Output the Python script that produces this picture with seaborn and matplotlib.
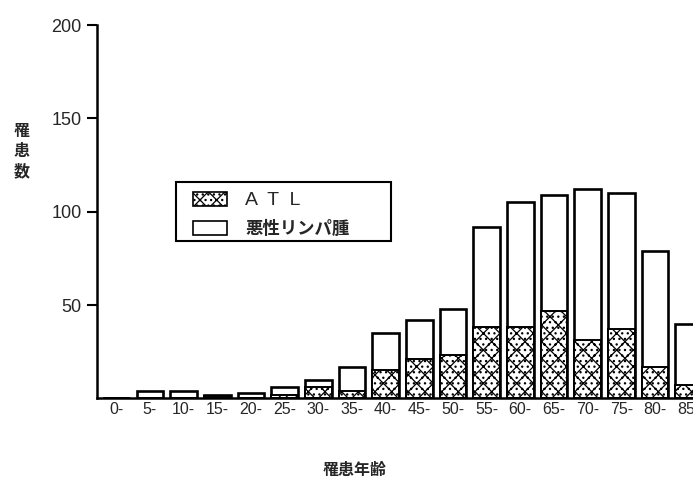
import matplotlib
matplotlib.use("Agg")
import matplotlib.pyplot as plt
from matplotlib.patches import Patch, Rectangle
import seaborn as sns
import pandas as pd

# Age groups (years) and case counts
age_groups = ["0-", "5-", "10-", "15-", "20-", "25-", "30-", "35-", "40-",
              "45-", "50-", "55-", "60-", "65-", "70-", "75-", "80-", "85-"]
total_cases = [0, 4, 4, 2, 3, 6, 10, 17, 35, 42, 48, 92, 105, 109, 112, 110, 79, 40]
atl_cases = [0, 0, 0, 1, 0, 2, 6, 4, 15, 21, 23, 38, 38, 47, 31, 37, 17, 7]
y_ticks = [50, 100, 150, 200]

df = pd.DataFrame({"age": age_groups, "total": total_cases, "atl": atl_cases})

sns.set_theme(style="white")
plt.rcParams["font.family"] = ["Liberation Sans", "Noto Sans CJK JP", "DejaVu Sans"]
plt.rcParams["hatch.linewidth"] = 0.9

ATL_HATCH = "xx..."
W, H = 693, 484

fig = plt.figure(figsize=(6.93, 4.84), dpi=100)
# The plotting area runs a little past the right edge of the figure
ax = fig.add_axes([0.140, 0.177, 0.878, 0.771])

# Whole bar (malignant lymphoma total), then ATL portion from the baseline
sns.barplot(data=df, x="age", y="total", color="white", edgecolor="black",
            linewidth=1.9, width=0.8, ax=ax, saturation=1)
sns.barplot(data=df, x="age", y="atl", color="white", edgecolor="black",
            linewidth=1.4, width=0.8, hatch=ATL_HATCH, ax=ax, saturation=1)

ax.set_xlim(-0.573, 17.5)
ax.set_ylim(0, 200)
ax.set_yticks(y_ticks)
ax.set_yticklabels([str(t) for t in y_ticks], fontsize=13)
ax.tick_params(axis="y", direction="out", length=7, width=1.5, color="black", pad=4, left=True)
ax.tick_params(axis="x", length=0, pad=3, labelsize=11.5)

for side in ["top", "right"]:
    ax.spines[side].set_visible(False)
for side in ["left", "bottom"]:
    ax.spines[side].set_color("black")
    ax.spines[side].set_linewidth(1.8)

ax.set_xlabel("")
ax.set_ylabel("")

# Axis titles
for ch, ypx in zip("罹患数", [131, 151, 171]):
    fig.text(22 / W, 1 - ypx / H, ch, ha="center", va="center", fontsize=11.5,
             fontweight="bold", family=["Noto Sans CJK JP"])
fig.text(355 / W, 1 - 470 / H, "罹患年齢", ha="center", va="center", fontsize=11.5,
         fontweight="bold", family=["Noto Sans CJK JP"])

# Legend: entries without their own frame, boxed by a separate rectangle
handles = [
    Patch(facecolor="white", edgecolor="black", hatch=ATL_HATCH, linewidth=1.2, label="A  T  L"),
    Patch(facecolor="white", edgecolor="black", linewidth=1.2, label="悪性リンパ腫"),
]
leg = fig.legend(handles=handles, loc="upper left",
                 bbox_to_anchor=(193 / W, 1 - 192 / H),
                 frameon=False, handlelength=1.95, handleheight=0.9,
                 borderpad=0, borderaxespad=0,
                 labelspacing=0.62, handletextpad=1.05,
                 prop={"family": ["Noto Sans CJK JP"], "size": 12.5, "weight": "bold"})
atl_text = leg.get_texts()[0]
atl_text.set_fontweight("normal")
atl_text.set_family(["Liberation Sans"])
atl_text.set_fontsize(14)
fig.add_artist(Rectangle((176 / W, 1 - 241 / H), (391 - 176) / W, (241 - 182) / H,
                         transform=fig.transFigure, facecolor="none",
                         edgecolor="black", linewidth=1.5, zorder=5))

fig.savefig("out.png", dpi=100, facecolor="white")
